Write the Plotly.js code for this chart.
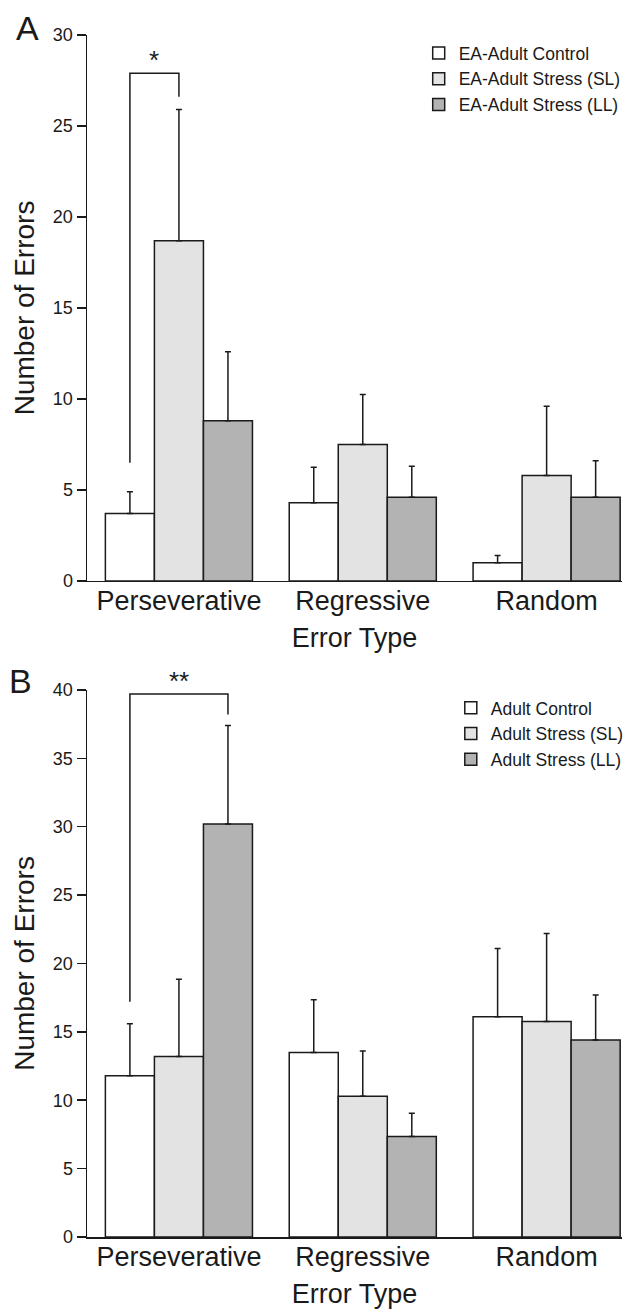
<!DOCTYPE html>
<html>
<head>
<meta charset="utf-8">
<script src="https://cdn.plot.ly/plotly-3.0.1.min.js"></script>
<style>html,body{margin:0;padding:0;background:#fff;}#chart{width:640px;height:1313px;}</style>
</head>
<body>
<div id="chart"></div>
<script>
// ---- Data ----
const categories = ["Perseverative", "Regressive", "Random"];

const seriesNamesA = ["EA-Adult Control", "EA-Adult Stress (SL)", "EA-Adult Stress (LL)"];
const controlA = [3.7, 4.3, 1.0];
const stressSLA = [18.7, 7.5, 5.8];
const stressLLA = [8.8, 4.6, 4.6];
const controlA_err = [1.2, 1.95, 0.4];
const stressSLA_err = [7.2, 2.75, 3.8];
const stressLLA_err = [3.8, 1.7, 2.0];

const seriesNamesB = ["Adult Control", "Adult Stress (SL)", "Adult Stress (LL)"];
const controlB = [11.8, 13.5, 16.1];
const stressSLB = [13.2, 10.3, 15.75];
const stressLLB = [30.2, 7.35, 14.4];
const controlB_err = [3.8, 3.85, 5.0];
const stressSLB_err = [5.65, 3.3, 6.45];
const stressLLB_err = [7.2, 1.7, 3.3];

// significance brackets: category index, series from/to, heights, label
const sigA = {cat: 0, from: 0, to: 1, yFrom: 6.5, yTop: 27.9, yTo: 26.6, label: "*"};
const sigB = {cat: 0, from: 0, to: 2, yFrom: 17.2, yTop: 39.7, yTo: 38.2, label: "**"};

// ---- Styles ----
const fills = ["#ffffff", "#e3e3e3", "#b3b3b3"];
const FONT = "Liberation Sans, Arial, Helvetica, sans-serif";
const ink = "#1a1a1a";

function barTrace(name, y, err, idx, xa, ya, leg) {
  return {
    type: "bar", name: name, x: categories, y: y,
    xaxis: xa, yaxis: ya, legend: leg,
    marker: {color: fills[idx], line: {color: ink, width: 1.5}},
    error_y: {type: "data", array: err, arrayminus: err.map(() => 0), symmetric: false,
              color: ink, thickness: 1.5, width: 3},
    hoverinfo: "skip"
  };
}

const traces = [
  barTrace(seriesNamesA[0], controlA, controlA_err, 0, "x", "y", "legend"),
  barTrace(seriesNamesA[1], stressSLA, stressSLA_err, 1, "x", "y", "legend"),
  barTrace(seriesNamesA[2], stressLLA, stressLLA_err, 2, "x", "y", "legend"),
  barTrace(seriesNamesB[0], controlB, controlB_err, 0, "x2", "y2", "legend2"),
  barTrace(seriesNamesB[1], stressSLB, stressSLB_err, 1, "x2", "y2", "legend2"),
  barTrace(seriesNamesB[2], stressLLB, stressLLB_err, 2, "x2", "y2", "legend2")
];

// bar offsets inside a group (3 bars, bargap 0.2)
const nBars = 3, groupW = 0.8, barW = groupW / nBars;
function barCenter(cat, s) { return cat - groupW / 2 + barW * (s + 0.5); }

function bracket(sig, xr, yr) {
  const x0 = barCenter(sig.cat, sig.from), x1 = barCenter(sig.cat, sig.to);
  const line = {color: ink, width: 1.5};
  return {
    shapes: [{type: "path", xref: xr, yref: yr, line: line,
      path: `M${x0},${sig.yFrom} L${x0},${sig.yTop} L${x1},${sig.yTop} L${x1},${sig.yTo}`}],
    ann: {xref: xr, yref: yr, x: (x0 + x1) / 2, y: sig.yTop, text: sig.label, showarrow: false,
      yanchor: "bottom", yshift: -4, font: {family: FONT, size: 26, color: ink}}
  };
}
const bA = bracket(sigA, "x", "y");
const bB = bracket(sigB, "x2", "y2");

const xCommon = {
  type: "category", range: [-0.5, 2.41], showline: true, linecolor: ink, linewidth: 1.5,
  ticks: "", showgrid: false, zeroline: false, fixedrange: true, ticklabelstandoff: -5,
  tickfont: {family: FONT, size: 27, color: ink},
  title: {text: "Error Type", font: {family: FONT, size: 27, color: ink}, standoff: 13}
};
const yCommon = {
  showline: true, linecolor: ink, linewidth: 1.5, ticks: "outside", ticklen: 9, tickwidth: 1.5,
  tickcolor: ink, showgrid: false, zeroline: false, fixedrange: true,
  tickfont: {family: FONT, size: 18, color: ink},
  title: {text: "Number of Errors", font: {family: FONT, size: 28, color: ink}, standoff: 10}
};

const layout = {
  width: 640, height: 1313,
  margin: {l: 87, r: 11, t: 35, b: 76},
  paper_bgcolor: "#fff", plot_bgcolor: "#fff",
  barmode: "group", bargap: 0.2, bargroupgap: 0,
  font: {family: FONT, color: ink},
  xaxis: Object.assign({}, xCommon, {anchor: "y", domain: [0, 1]}),
  yaxis: Object.assign({}, yCommon, {anchor: "x", domain: [0.5458, 1], range: [0, 30], tickvals: [0, 5, 10, 15, 20, 25, 30]}),
  xaxis2: Object.assign({}, xCommon, {anchor: "y2", domain: [0, 1]}),
  yaxis2: Object.assign({}, yCommon, {anchor: "x2", domain: [0, 0.4551], range: [0, 40], tickvals: [0, 5, 10, 15, 20, 25, 30, 35, 40]}),
  legend: {x: 0.62, y: 1.0, xanchor: "left", yanchor: "top", bgcolor: "rgba(0,0,0,0)",
    font: {family: FONT, size: 17.5, color: ink}, tracegroupgap: 0, itemclick: false},
  legend2: {x: 0.68, y: 0.4551, xanchor: "left", yanchor: "top", bgcolor: "rgba(0,0,0,0)",
    font: {family: FONT, size: 17.5, color: ink}, tracegroupgap: 0, itemclick: false},
  shapes: bA.shapes.concat(bB.shapes),
  annotations: [
    bA.ann, bB.ann,
    {xref: "paper", yref: "paper", x: -0.136, y: 1.0, xanchor: "left", yanchor: "middle", yshift: 7,
     text: "A", showarrow: false, font: {family: FONT, size: 34, color: ink}},
    {xref: "paper", yref: "paper", x: -0.15, y: 0.4551, xanchor: "left", yanchor: "middle", yshift: 9,
     text: "B", showarrow: false, font: {family: FONT, size: 34, color: ink}}
  ],
  showlegend: true
};

Plotly.newPlot("chart", traces, layout, {displayModeBar: false, staticPlot: true});
</script>
</body>
</html>
